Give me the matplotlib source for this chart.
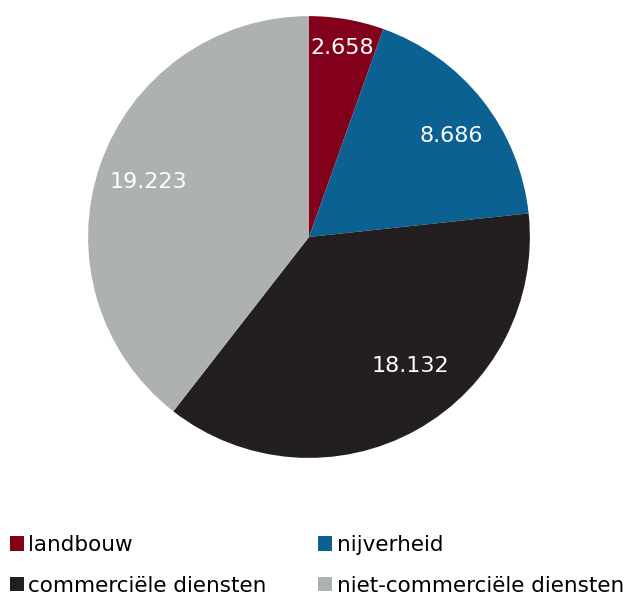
import matplotlib.pyplot as plt
import numpy as np

sectors = ['landbouw', 'nijverheid', 'commerciële diensten', 'niet-commerciële diensten']
values = [2.658, 8.686, 18.132, 19.223]
colors = ['#83001A', '#0A6192', '#231F20', '#AEB1B2']

plt.rcParams['font.family'] = ['DejaVu Sans']

fig = plt.figure(figsize=(6.26, 5.97), dpi=100)
ax = fig.add_axes([0.1406, 0.233, 0.706, 0.740])

wedges, texts = ax.pie(values, colors=colors, startangle=90, counterclock=False,
                       labels=[f'{v:.3f}' for v in values], labeldistance=0.78,
                       textprops={'color': 'white', 'fontsize': 16},
                       wedgeprops={'linewidth': 0})
# place labels roughly where the original puts them
radii = [0.87, 0.79, 0.74, 0.77]
shift_deg = [0, -3, 9, 0]
for t, r, d in zip(texts, radii, shift_deg):
    x, y = t.get_position()
    ang = np.arctan2(y, x) + np.deg2rad(d)
    t.set_position((r * np.cos(ang), r * np.sin(ang)))
    t.set_ha('center')
    t.set_va('center')
ax.set_xlim(-1, 1)
ax.set_ylim(-1, 1)
ax.set_aspect('equal')

# legend fills column-first, so reorder to get row-wise order
order = [0, 2, 1, 3]
fig.legend([wedges[i] for i in order], [sectors[i] for i in order], ncol=2,
           loc='upper left', bbox_to_anchor=(0.002, 0.118),
           frameon=False, fontsize=15.5, handlelength=0.65, handleheight=0.65,
           handletextpad=0.2, labelspacing=0.95, columnspacing=2.4, borderaxespad=0)

fig.savefig('out.png', dpi=100)
